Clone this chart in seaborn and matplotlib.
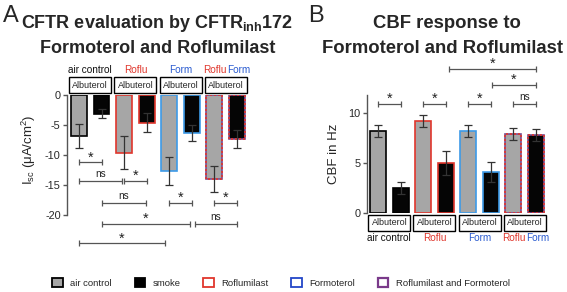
import numpy as np
import pandas as pd
import matplotlib
matplotlib.use("Agg")
import matplotlib.pyplot as plt
import matplotlib.transforms as mtransforms
from matplotlib.patches import Patch, Rectangle
import seaborn as sns

groups = ['air control', 'Roflu', 'Form', 'RofluForm']
exposure = ['air', 'smoke']

# panel A: short circuit current (uA/cm2)
isc_mean = [-6.9, -3.1, -9.6, -4.6, -12.7, -6.3, -14.0, -7.4]
isc_err = [2.0, 0.7, 2.8, 1.6, 2.3, 1.3, 2.2, 1.5]

# panel B: ciliary beat frequency (Hz)
cbf_mean = [8.2, 2.5, 9.2, 5.0, 8.2, 4.1, 7.9, 7.8]
cbf_err = [0.6, 0.6, 0.6, 1.2, 0.6, 1.0, 0.6, 0.6]

# significance brackets (from bar, to bar, height, label)
isc_sig_from = [0, 0, 2, 1, 4, 6, 1, 5.15, 0]
isc_sig_to = [1, 1.9, 3, 2.95, 5, 7, 4.9, 7, 3.8]
isc_sig_y = [-11.2, -14.3, -14.3, -18, -18, -18, -21.5, -21.5, -24.7]
isc_sig_lab = ['*', 'ns', '*', 'ns', '*', '*', '*', 'ns', '*']

cbf_sig_from = [0, 2, 4, 6, 5.05, 3.15]
cbf_sig_to = [1, 3, 5, 7, 7, 7]
cbf_sig_y = [10.9, 10.9, 10.9, 10.9, 12.8, 14.4]
cbf_sig_lab = ['*', '*', '*', 'ns', '*', '*']

#####################################################################
RED = '#e0362c'
BLUE = '#3d9ae8'
PURPLE = '#7a4a8e'
group_edge = {'air control': 'black', 'Roflu': RED, 'Form': BLUE, 'RofluForm': PURPLE}
face = ['#a6a6a6', '#050505'] * 4
edge = [group_edge[g] for g in groups for e in exposure]

df = pd.DataFrame({
    'bar': [g + ' ' + e for g in groups for e in exposure],
    'isc': isc_mean,
    'cbf': cbf_mean,
})

sns.set_theme(style="ticks")
plt.rcParams['font.family'] = ['Liberation Sans', 'DejaVu Sans']
plt.rcParams['mathtext.fontset'] = 'custom'
plt.rcParams['mathtext.rm'] = 'Liberation Sans'
plt.rcParams['mathtext.it'] = 'Liberation Sans:italic'
plt.rcParams['mathtext.bf'] = 'Liberation Sans:bold'
plt.rcParams['axes.unicode_minus'] = False

fig = plt.figure(figsize=(5.67, 2.92), dpi=100)
W, H = 567.0, 292.0
axA = fig.add_axes([67 / W, 1 - 251 / H, 183.5 / W, 156 / H])
axB = fig.add_axes([367 / W, 1 - 213 / H, 180 / W, 155 / H])


def draw_bars(ax, col, err):
    sns.barplot(data=df, x='bar', y=col, hue='bar', palette=face, legend=False,
                width=0.7, saturation=1, ax=ax)
    for i, p in enumerate(ax.patches):
        p.set_edgecolor(edge[i])
        p.set_linewidth(1.2)
        if groups[i // 2] == 'RofluForm':
            ax.add_patch(Rectangle(p.get_xy(), p.get_width(), p.get_height(), fill=False,
                                   ec=RED, lw=1.2, ls=(0, (1.2, 1.2)), zorder=p.get_zorder() + 0.1))
    ax.errorbar(np.arange(len(df)), df[col], yerr=err, fmt='none', ecolor='#333333',
                elinewidth=0.9, capsize=2.8, capthick=0.9, zorder=5)


def bracket(ax, x1, x2, y, lab):
    ax.plot([x1, x2], [y, y], color='#555555', lw=0.9, marker='|', markersize=4,
            markeredgewidth=0.9, clip_on=False)
    off = 1.5 if lab == 'ns' else -1.5
    ax.annotate(lab, (0.5 * (x1 + x2), y), xytext=(0, off), textcoords='offset points',
                ha='center', va='bottom', fontsize=10.5 if lab == '*' else 7.2,
                annotation_clip=False, color='#222222')


def group_labels(ax, y_box, y_lab):
    tr = mtransforms.blended_transform_factory(ax.transData, ax.transAxes)
    for k, g in enumerate(groups):
        xc = 2 * k + 0.5
        ax.text(xc, y_box, 'Albuterol', transform=tr, ha='center', va='center', fontsize=6.5,
                bbox=dict(boxstyle='square,pad=0.35', fc='white', ec='black', lw=1))
        if g == 'RofluForm':
            ax.text(xc + 0.05, y_lab, 'Roflu', transform=tr, ha='right', va='center',
                    fontsize=7.2, color=RED)
            ax.text(xc + 0.05, y_lab, 'Form', transform=tr, ha='left', va='center',
                    fontsize=7.2, color='#2a5bd0')
        else:
            c = {'air control': '#111111', 'Roflu': RED, 'Form': '#2a5bd0'}[g]
            ax.text(xc, y_lab, g, transform=tr, ha='center', va='center', fontsize=7.2, color=c)


def style_axis(ax, lo, hi, ticks):
    sns.despine(ax=ax, bottom=True)
    ax.spines['left'].set_bounds(lo, hi)
    ax.spines['left'].set_color('#555555')
    ax.spines['left'].set_linewidth(1)
    ax.set_xticks([])
    ax.set_xlabel('')
    ax.set_yticks(ticks)
    ax.tick_params(axis='y', labelsize=7.8, length=3, width=1, color='#555555', pad=1.5)


#####################################################################
# Panel A
draw_bars(axA, 'isc', isc_err)
for a, b, y, lab in zip(isc_sig_from, isc_sig_to, isc_sig_y, isc_sig_lab):
    bracket(axA, a, b, y, lab)
axA.set_xlim(-0.53, 7.6)
axA.set_ylim(-26, 0)
style_axis(axA, -20, 0, [0, -5, -10, -15, -20])
axA.set_ylabel(r'I$_{\mathrm{sc}}$ ($\mathrm{\mu}$A/cm$^{2}$)', fontsize=9.5)
axA.yaxis.set_label_coords(-0.16, 0.65)
group_labels(axA, 1.064, 1.16)

# Panel B
draw_bars(axB, 'cbf', cbf_err)
for a, b, y, lab in zip(cbf_sig_from, cbf_sig_to, cbf_sig_y, cbf_sig_lab):
    bracket(axB, a, b, y, lab)
axB.set_xlim(-0.49, 7.49)
axB.set_ylim(0, 15.5)
style_axis(axB, 0, 11.8, [0, 5, 10])
axB.set_ylabel('CBF in Hz', fontsize=9.5)
axB.yaxis.set_label_coords(-0.15, 0.38)
group_labels(axB, -0.0645, -0.161)

#####################################################################
# Titles
fig.text(3 / W, 1 - 22 / H, 'A', fontsize=17, va='baseline', ha='left')
fig.text(308 / W, 1 - 22 / H, 'B', fontsize=17, va='baseline', ha='left')
fig.text(157 / W, 1 - 28 / H, r'CFTR evaluation by CFTR$_{\mathbf{inh}}$172', fontsize=13,
         fontweight='bold', ha='center', va='baseline')
fig.text(158 / W, 1 - 53 / H, 'Formoterol and Roflumilast', fontsize=13,
         fontweight='bold', ha='center', va='baseline')
fig.text(447 / W, 1 - 28 / H, 'CBF response to', fontsize=13.3,
         fontweight='bold', ha='center', va='baseline')
fig.text(443 / W, 1 - 53 / H, 'Formoterol and Roflumilast', fontsize=13.3,
         fontweight='bold', ha='center', va='baseline')

# Legend
handles = [Patch(fc='#a6a6a6', ec='black', lw=1.3),
           Patch(fc='black', ec='black', lw=1.3),
           Patch(fc='white', ec=RED, lw=1.3),
           Patch(fc='white', ec='#2347c8', lw=1.3),
           Patch(fc='white', ec='#7a3a8a', lw=1.6)]
labels = ['air control', 'smoke', 'Roflumilast', 'Formoterol', 'Roflumilast and Formoterol']
fig.legend(handles, labels, loc='center', bbox_to_anchor=(281 / W, 1 - 283 / H), ncol=5,
           frameon=False, fontsize=6.8, handlelength=1.1, handleheight=1.1,
           columnspacing=2.4, handletextpad=0.8, borderpad=0)

fig.savefig('out.png', dpi=100)
